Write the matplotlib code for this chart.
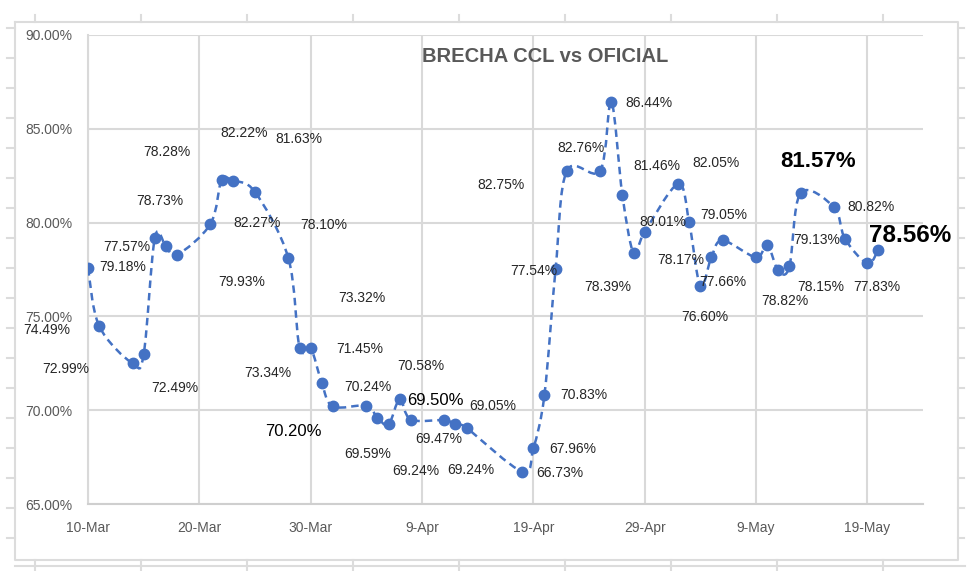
import datetime as dt
import numpy as np
import matplotlib
matplotlib.use('Agg')
import matplotlib.pyplot as plt
import matplotlib.dates as mdates
from matplotlib.path import Path
from matplotlib.patches import PathPatch
from matplotlib.ticker import FuncFormatter

# data
dates = ['2022-03-10', '2022-03-11', '2022-03-14', '2022-03-15', '2022-03-16',
         '2022-03-17', '2022-03-18', '2022-03-21', '2022-03-22', '2022-03-23',
         '2022-03-25', '2022-03-28', '2022-03-29', '2022-03-30', '2022-03-31',
         '2022-04-01', '2022-04-04', '2022-04-05', '2022-04-06', '2022-04-07',
         '2022-04-08', '2022-04-11', '2022-04-12', '2022-04-13', '2022-04-18',
         '2022-04-19', '2022-04-20', '2022-04-21', '2022-04-22', '2022-04-25',
         '2022-04-26', '2022-04-27', '2022-04-28', '2022-04-29', '2022-05-02',
         '2022-05-03', '2022-05-04', '2022-05-05', '2022-05-06', '2022-05-09',
         '2022-05-10', '2022-05-11', '2022-05-12', '2022-05-13', '2022-05-16',
         '2022-05-17', '2022-05-19', '2022-05-20']
brecha = [77.57, 74.49, 72.49, 72.99, 79.18,
          78.73, 78.28, 79.93, 82.27, 82.22,
          81.63, 78.10, 73.34, 73.32, 71.45,
          70.20, 70.24, 69.59, 69.24, 70.58,
          69.50, 69.47, 69.24, 69.05, 66.73,
          67.96, 70.83, 77.54, 82.75, 82.76,
          86.44, 81.46, 78.39, 79.50, 82.05,
          80.01, 76.60, 78.17, 79.05, 78.15,
          78.82, 77.45, 77.66, 81.57, 80.82,
          79.13, 77.83, 78.56]
title = 'BRECHA CCL vs OFICIAL'

# where each data label sits, in pixels from its point (None = no label)
label_offsets = [(39, 21), (-52, -4), (42, -25), (-78, -15), (-32, -29),
                 (-6, 45), (-10, 103), (31, -58), (35, -43), (11, 48),
                 (44, 53), (35, 33), (-32, -25), (51, 50), (38, 34),
                 (-40, -25), (2, 19), (-10, -36), (27, -47), (21, 33),
                 (25, 19), (-6, -19), (15, -46), (26, 22), (38, -1),
                 (39, -1), (39, 0), (-22, -2), (-66, -14), (-19, 23),
                 (38, -1), (34, 29), (-26, -34), None, (38, 21),
                 (-26, 0), (4, -31), (-31, -3), (1, 25), (65, -30),
                 (18, -56), None, (-67, -16), (18, 32), (37, 0),
                 (-28, -1), (9, -24), (32, 14)]
# labels drawn larger than the rest: index -> (size, weight)
big_labels = {15: (12, 'normal'), 20: (12, 'normal'),
              43: (16, 'bold'), 47: (17.5, 'bold')}

blue = '#4472C4'
grid_col = '#d9d9d9'
txt_gray = '#595959'
plt.rcParams['font.family'] = ['Liberation Sans', 'DejaVu Sans']

x = mdates.date2num([dt.datetime.strptime(d, '%Y-%m-%d') for d in dates])
y = np.array(brecha)

fig = plt.figure(figsize=(9.8, 5.71), dpi=100)

# outer chart frame (screenshot border)
bg = fig.add_axes([0, 0, 1, 1])
bg.set_xlim(0, 980)
bg.set_ylim(571, 0)
bg.axis('off')
fc = '#dcdcdc'
bg.plot([15, 958, 958, 15, 15], [22, 22, 560, 560, 22], color=fc, lw=1.5)
bg.plot([15, 965], [566, 566], color=fc, lw=1.5)
for tx in np.arange(35, 960, 106):
    bg.plot([tx, tx], [15, 22], color=fc, lw=1.5)
    bg.plot([tx, tx], [560, 572], color=fc, lw=1.5)
for ty in np.arange(28, 560, 30):
    bg.plot([7, 15], [ty, ty], color=fc, lw=1.5)
    bg.plot([958, 964], [ty, ty], color=fc, lw=1.5)

ax = fig.add_axes([88 / 980, 1 - 504 / 571, 835 / 980, 469 / 571])

# smoothed line like Excel (Bezier through the points)
verts = [(x[0], y[0])]
codes = [Path.MOVETO]
n = len(x)
for i in range(n - 1):
    p0 = np.array([x[max(i - 1, 0)], y[max(i - 1, 0)]])
    p1 = np.array([x[i], y[i]])
    p2 = np.array([x[i + 1], y[i + 1]])
    p3 = np.array([x[min(i + 2, n - 1)], y[min(i + 2, n - 1)]])
    c1 = p1 + (p2 - p0) / 6
    c2 = p2 - (p3 - p1) / 6
    verts += [tuple(c1), tuple(c2), tuple(p2)]
    codes += [Path.CURVE4] * 3
ax.add_patch(PathPatch(Path(verts, codes), fill=False, edgecolor=blue,
                       lw=1.8, linestyle=(0, (3, 2)), zorder=3))
ax.plot(x, y, 'o', color=blue, markersize=7.5, zorder=4)

for i, off in enumerate(label_offsets):
    if off is None:
        continue
    size, weight = big_labels.get(i, (10, 'normal'))
    col = 'black' if i in big_labels else '#262626'
    ax.annotate('{:.2f}%'.format(y[i]), xy=(x[i], y[i]), xytext=off,
                textcoords='offset pixels', ha='center', va='center',
                fontsize=size, fontweight=weight, color=col, zorder=5)

start = dt.datetime(2022, 3, 10)
ax.set_xlim(mdates.date2num(start), mdates.date2num(dt.datetime(2022, 5, 24)))
ax.set_xticks([mdates.date2num(start + dt.timedelta(days=10 * k)) for k in range(8)])
ax.xaxis.set_major_formatter(FuncFormatter(
    lambda v, p: '{}-{}'.format(mdates.num2date(v).day, mdates.num2date(v).strftime('%b'))))
ax.set_ylim(65, 90)
ax.set_yticks(np.arange(65, 91, 5))
ax.yaxis.set_major_formatter(FuncFormatter(lambda v, p: '{:.2f}%'.format(v)))
ax.grid(True, color=grid_col, lw=1.5)
ax.set_axisbelow(True)
for s in ['top', 'right']:
    ax.spines[s].set_visible(False)
ax.spines['left'].set_color(grid_col)
ax.spines['bottom'].set_color('#cfcfcf')
ax.spines['left'].set_linewidth(1.5)
ax.spines['bottom'].set_linewidth(1.5)
ax.tick_params(length=0, labelsize=10, labelcolor=txt_gray)
ax.tick_params(axis='x', pad=12)
ax.tick_params(axis='y', pad=11)

ax.text(545 / 980, 1 - 56 / 571, title, transform=fig.transFigure,
        ha='center', va='center', fontsize=14.5, fontweight='bold',
        color=txt_gray, zorder=6)

plt.savefig('out.png', dpi=100)
